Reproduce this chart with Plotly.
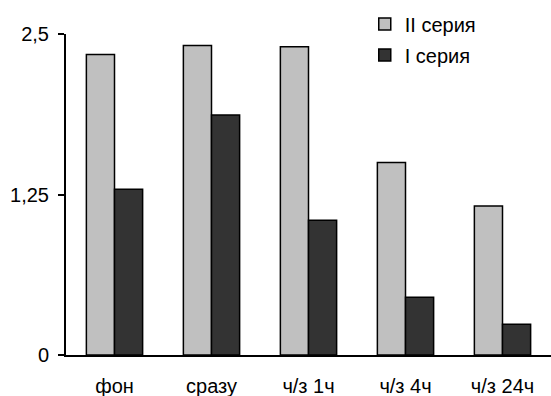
import plotly.graph_objects as go

categories = ["фон", "сразу", "ч/з 1ч", "ч/з 4ч", "ч/з 24ч"]
series_ii = [2.34, 2.41, 2.40, 1.50, 1.16]
series_i = [1.29, 1.87, 1.05, 0.45, 0.24]
y_ticks = [0, 1.25, 2.5]
y_tick_labels = ["0", "1,25", "2,5"]

fig = go.Figure()
fig.add_trace(go.Bar(x=categories, y=series_ii, name="II серия", legendgroup="a",
                     marker=dict(color="#c0c0c0", line=dict(color="black", width=1.5))))
fig.add_trace(go.Bar(x=categories, y=series_i, name="I серия", legendgroup="b",
                     marker=dict(color="#333333", line=dict(color="black", width=1.5))))

fig.update_layout(
    width=551, height=396,
    margin=dict(l=66, r=0, t=34, b=41, autoexpand=False),
    paper_bgcolor="white", plot_bgcolor="white",
    barmode="group", bargap=0.42, bargroupgap=0,
    font=dict(family="Liberation Sans, Arial", size=20, color="black"),
    showlegend=True,
    legend=dict(x=0.616, y=1.092, xanchor="left", yanchor="top",
                font=dict(size=20), tracegroupgap=2, bgcolor="rgba(0,0,0,0)"),
)
fig.update_xaxes(showline=True, linecolor="black", linewidth=2, ticks="",
                 ticklabelstandoff=12, showgrid=False, automargin=False)
fig.update_yaxes(range=[0, 2.5], tickvals=y_ticks, ticktext=y_tick_labels,
                 showline=True, linecolor="black", linewidth=2, ticks="outside",
                 ticklen=6, tickwidth=2, tickcolor="black", showgrid=False,
                 zeroline=False, ticklabelstandoff=5, automargin=False)

fig.write_html("out.html", config={"displayModeBar": False},
               post_script="document.body.style.margin='0';document.body.style.overflow='hidden';")
